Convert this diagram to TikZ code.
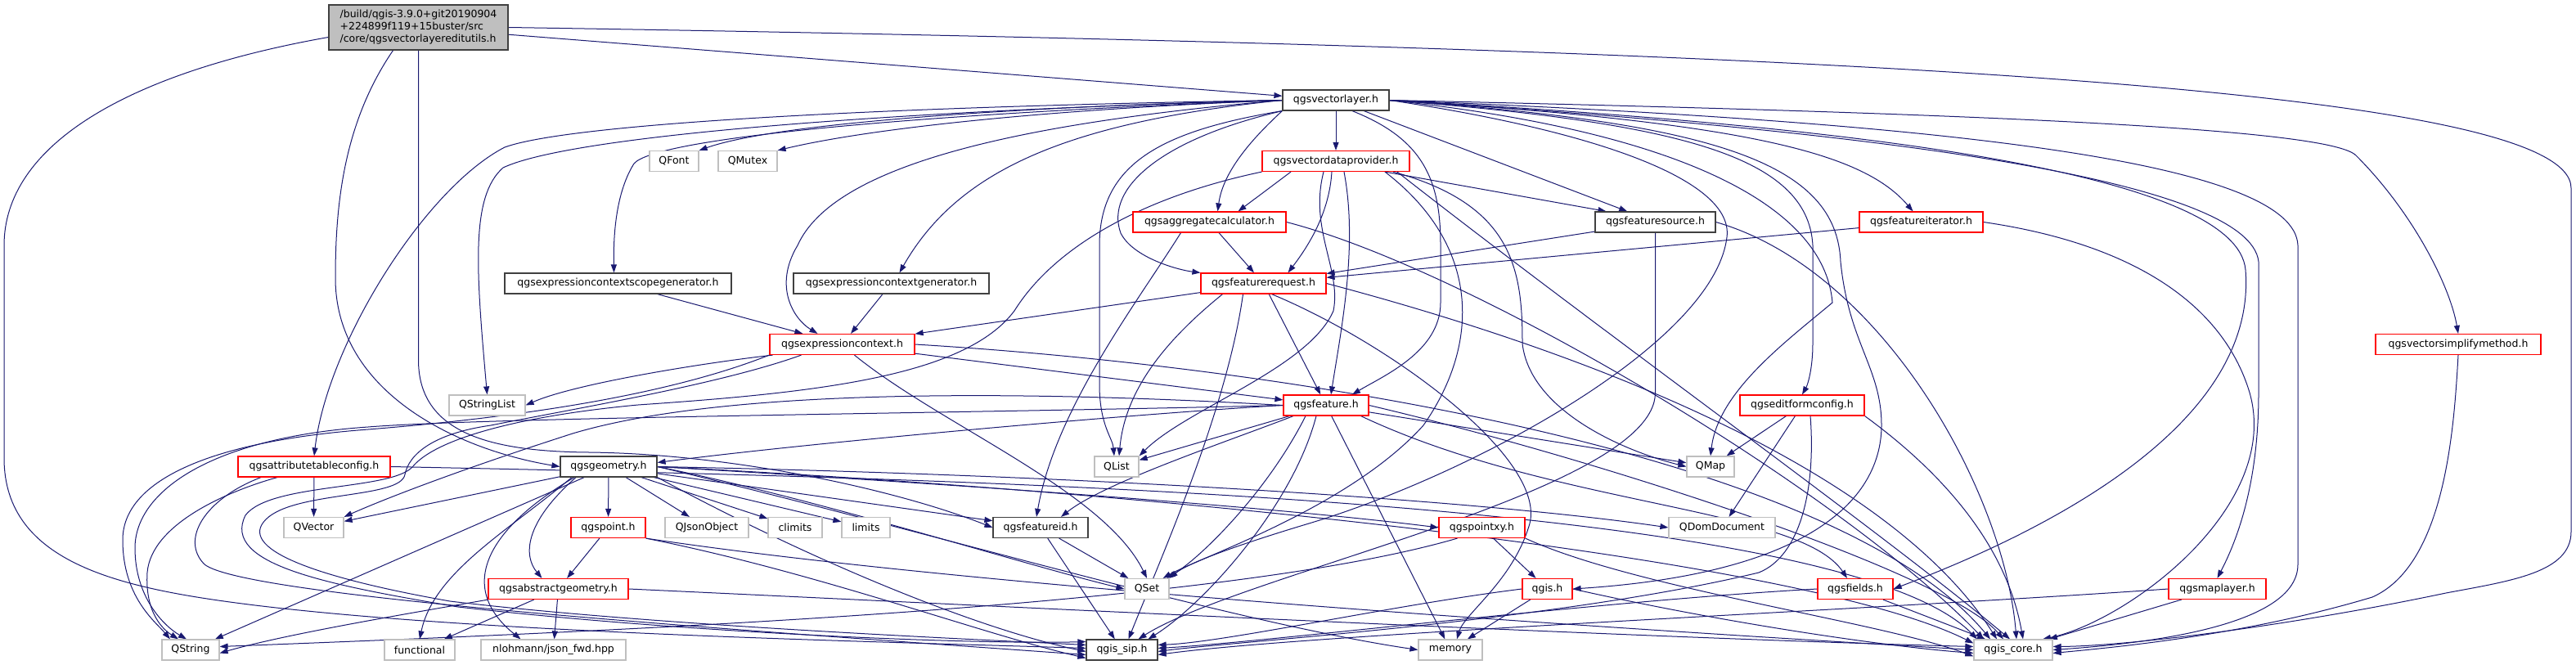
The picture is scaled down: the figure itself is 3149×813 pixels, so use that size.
\documentclass[tikz,border=0pt]{standalone}
\usepackage{fontspec}
\setmainfont{DejaVu Sans}
\usetikzlibrary{arrows.meta, backgrounds}
\definecolor{EdgeBlue}{RGB}{25, 25, 112}
\definecolor{BoxGray}{RGB}{191, 191, 191}
\definecolor{BoxDark}{RGB}{64, 64, 64}
\definecolor{BoxRed}{RGB}{255, 0, 0}
\tikzset{
  file/.style={draw=BoxDark, fill=white, line width=1.2pt, minimum height=25pt, inner sep=0pt, font=\fontsize{12.5}{15}\selectfont},
  ext/.style={file, draw=BoxGray},
  trunc/.style={file, draw=BoxRed},
  dep/.style={EdgeBlue, line width=1pt, -{Triangle[length=10pt,width=7pt]}}
}

\begin{document}
\begin{tikzpicture}[x=1pt, y=-1pt]
    \useasboundingbox (0,0) rectangle (3149,813);

    % files, row by row
    \node[file, fill=BoxGray, minimum width=219pt, minimum height=55pt, align=left] (root) at (511.5,33.5) {/build/qgis-3.9.0+git20190904\\+224899f119+15buster/src\\/core/qgsvectorlayereditutils.h};
    \node[file, minimum width=130pt] (vlayer) at (1633,122.5) {qgsvectorlayer.h};
    \node[ext, minimum width=60pt] (QFont) at (824,197) {QFont};
    \node[ext, minimum width=72pt] (QMutex) at (914,197) {QMutex};
    \node[trunc, minimum width=180pt] (vdp) at (1633,197) {qgsvectordataprovider.h};
    \node[trunc, minimum width=187pt] (aggcalc) at (1478.5,271.5) {qgsaggregatecalculator.h};
    \node[file, minimum width=147pt] (fsource) at (2023.5,271.5) {qgsfeaturesource.h};
    \node[trunc, minimum width=151pt] (fiter) at (2348.5,271.5) {qgsfeatureiterator.h};
    \node[file, minimum width=277pt] (scopegen) at (755.5,346.5) {qgsexpressioncontextscopegenerator.h};
    \node[file, minimum width=239pt] (ctxgen) at (1089.5,346.5) {qgsexpressioncontextgenerator.h};
    \node[trunc, minimum width=153pt] (freq) at (1544.5,346.5) {qgsfeaturerequest.h};
    \node[trunc, minimum width=177pt] (exprctx) at (1029.5,421) {qgsexpressioncontext.h};
    \node[trunc, minimum width=202pt] (simplify) at (3005,421) {qgsvectorsimplifymethod.h};
    \node[ext, minimum width=93pt] (QStringList) at (595.5,495.5) {QStringList};
    \node[trunc, minimum width=104pt] (feature) at (1621,495.5) {qgsfeature.h};
    \node[trunc, minimum width=152pt] (editform) at (2203,495.5) {qgseditformconfig.h};
    \node[trunc, minimum width=186pt] (attrtable) at (384,570.5) {qgsattributetableconfig.h};
    \node[file, minimum width=118pt] (geometry) at (744,570.5) {qgsgeometry.h};
    \node[ext, minimum width=54pt] (QList) at (1365,570.5) {QList};
    \node[ext, minimum width=58pt] (QMap) at (2091,570.5) {QMap};
    \node[ext, minimum width=73pt] (QVector) at (383.5,645) {QVector};
    \node[trunc, minimum width=91pt] (point) at (743.5,645) {qgspoint.h};
    \node[ext, minimum width=102pt] (QJsonObject) at (864,645) {QJsonObject};
    \node[ext, minimum width=66pt] (climits) at (972,645) {climits};
    \node[ext, minimum width=59pt] (limits) at (1058.5,645) {limits};
    \node[file, minimum width=116pt] (featureid) at (1272,645) {qgsfeatureid.h};
    \node[trunc, minimum width=105pt] (pointxy) at (1811.5,645) {qgspointxy.h};
    \node[ext, minimum width=130pt] (QDomDocument) at (2105,645) {QDomDocument};
    \node[trunc, minimum width=171pt] (absgeom) at (682.5,720) {qgsabstractgeometry.h};
    \node[ext, minimum width=54pt] (QSet) at (1402,720) {QSet};
    \node[trunc, minimum width=61pt] (qgish) at (1891.5,720) {qgis.h};
    \node[trunc, minimum width=92pt] (fields) at (2268,720) {qgsfields.h};
    \node[trunc, minimum width=119pt] (maplayer) at (2710.5,720) {qgsmaplayer.h};
    \node[ext, minimum width=70pt] (QString) at (233,794.5) {QString};
    \node[ext, minimum width=86pt] (functional) at (513,794.5) {functional};
    \node[ext, minimum width=177pt] (nlohmann) at (676.5,794.5) {nlohmann/json\_fwd.hpp};
    \node[file, minimum width=87pt] (qgissip) at (1371.5,794.5) {qgis\_sip.h};
    \node[ext, minimum width=78pt] (memory) at (1773,794.5) {memory};
    \node[ext, minimum width=96pt] (qgiscore) at (2461,794.5) {qgis\_core.h};

    \begin{scope}[on background layer]
    % root file
    \draw[dep] ([yshift=-12pt]root.west) .. controls (150,90) and (5,180) .. (5,300) -- (5,560) .. controls (5,690) and (150,720) .. (312,740) .. controls (600,775) and (1100,785) .. ([yshift=2pt]qgissip.west);
    \draw[dep] (root) -- (vlayer);
    \draw[dep] (root.east) .. controls (2300,60) and (3143,110) .. (3143,230) -- (3143,650) .. controls (3143,700) and (3070,710) .. (2990,725) .. controls (2800,765) and (2600,790) .. ([yshift=4pt]qgiscore.east);
    \draw[dep] ([xshift=-31pt]root.south) .. controls (420,150) and (410,250) .. (410,340) .. controls (410,480) and (560,550) .. (geometry.west);
    \draw[dep] (root.south) -- (511.5,440) .. controls (511.5,530) and (600,552) .. (720,553) .. controls (900,555) and (1100,600) .. (featureid.west);

    % qgsvectorlayer.h
    \draw[dep] (vlayer.west) .. controls (1250,130) and (950,150) .. (QFont.north east);
    \draw[dep] (vlayer.west) .. controls (1250,135) and (1050,160) .. (QMutex.north east);
    \draw[dep] (vlayer.west) .. controls (1100,130) and (700,150) .. (617,180) .. controls (520,230) and (400,420) .. (attrtable.north);
    \draw[dep] (vlayer.west) .. controls (1100,135) and (700,165) .. (615,205) .. controls (575,240) and (582,330) .. (QStringList.north);
    \draw[dep] (vlayer.west) .. controls (1100,140) and (800,170) .. (775,200) .. controls (750,240) and (750,300) .. ([xshift=-5pt]scopegen.north);
    \draw[dep] (vlayer.west) .. controls (1250,150) and (1020,200) .. (975,300) .. controls (945,350) and (970,390) .. ([xshift=-30pt]exprctx.north);
    \draw[dep] (vlayer.west) .. controls (1300,150) and (1170,210) .. ([xshift=10pt]ctxgen.north);
    \draw[dep] (vlayer.south west) .. controls (1530,170) and (1495,210) .. ([xshift=10pt]aggcalc.north);
    \draw[dep] (vlayer.south west) .. controls (1420,170) and (1350,230) .. (1370,285) .. controls (1385,315) and (1440,330) .. (freq.north west);
    \draw[dep] (vlayer.south west) .. controls (1420,160) and (1344,200) .. (1344,300) -- (1344,470) .. controls (1344,520) and (1360,535) .. ([xshift=-3pt]QList.north);
    \draw[dep] (vlayer) -- (vdp);
    \draw[dep] (vlayer) -- (fsource);
    \draw[dep] (vlayer.east) .. controls (2150,150) and (2280,190) .. ([xshift=-10pt]fiter.north);
    \draw[dep] ([xshift=20pt]vlayer.south) .. controls (1740,170) and (1761,220) .. (1761,300) -- (1761,370) .. controls (1761,430) and (1690,460) .. ([xshift=32pt]feature.north);
    \draw[dep] (vlayer.east) .. controls (1950,160) and (2120,220) .. (2111,290) .. controls (2095,420) and (1800,580) .. (1600,640) .. controls (1500,670) and (1450,690) .. (QSet.north east);
    \draw[dep] (vlayer.east) .. controls (2050,160) and (2230,250) .. (2240,370) .. controls (2180,420) and (2100,480) .. (QMap.north);
    \draw[dep] (vlayer.east) .. controls (2050,150) and (2210,190) .. (2216,300) -- (2216,420) .. controls (2216,450) and (2210,470) .. (editform.north);
    \draw[dep] (vlayer.east) .. controls (2100,150) and (2245,200) .. (2250,320) .. controls (2260,420) and (2300,450) .. (2300,520) .. controls (2300,600) and (2230,700) .. (qgish.east);
    \draw[dep] (vlayer.east) .. controls (2300,160) and (2750,220) .. (2761,320) -- (2761,480) .. controls (2761,580) and (2740,650) .. (maplayer.north);
    \draw[dep] (vlayer.east) .. controls (2300,155) and (2735,215) .. (2745,330) .. controls (2760,520) and (2500,650) .. (fields.east);
    \draw[dep] (vlayer.east) .. controls (2400,150) and (2805,200) .. (2809,300) -- (2809,690) .. controls (2809,760) and (2650,785) .. (qgiscore.east);
    \draw[dep] (vlayer.east) .. controls (2500,140) and (2850,160) .. (2880,190) .. controls (2950,260) and (2995,350) .. (simplify.north);

    % qgsvectordataprovider.h
    \draw[dep] ([xshift=-55pt]vdp.south) -- ([xshift=35pt]aggcalc.north);
    \draw[dep] ([xshift=-5pt]vdp.south) .. controls (1625,260) and (1600,300) .. ([xshift=30pt]freq.north);
    \draw[dep] ([xshift=10pt]vdp.south) .. controls (1660,300) and (1640,400) .. ([xshift=6pt]feature.north);
    \draw[dep] ([xshift=60pt]vdp.south) -- ([xshift=-60pt]fsource.north);
    \draw[dep] ([xshift=-15pt]vdp.south) .. controls (1600,280) and (1640,330) .. (1630,380) .. controls (1600,450) and (1450,500) .. (QList.north east);
    \draw[dep] ([xshift=60pt]vdp.south) .. controls (1810,300) and (1810,420) .. (1740,520) .. controls (1650,620) and (1470,680) .. ([xshift=-8pt]QSet.north east);
    \draw[dep] ([xshift=70pt]vdp.south) .. controls (1850,250) and (1861,330) .. (1861,420) .. controls (1870,500) and (1980,550) .. (QMap.west);
    \draw[dep] ([xshift=75pt]vdp.south) .. controls (1950,400) and (2300,650) .. ([xshift=-4pt]qgiscore.north);
    \draw[dep] (vdp.south west) .. controls (1400,240) and (1290,300) .. (1240,380) .. controls (1180,460) and (1000,480) .. (780,495) .. controls (620,510) and (530,540) .. (505,570) .. controls (480,600) and (330,590) .. (300,630) .. controls (270,690) and (400,715) .. (560,742) .. controls (850,775) and (1200,788) .. ([yshift=10pt]qgissip.west);

    % qgsaggregatecalculator.h
    \draw[dep] (aggcalc) -- (freq);
    \draw[dep] ([xshift=-35pt]aggcalc.south) .. controls (1390,370) and (1290,500) .. ([xshift=-5pt]featureid.north);
    \draw[dep] (aggcalc.east) .. controls (1800,330) and (2250,600) .. ([xshift=-36pt]qgiscore.north);

    % qgsfeaturesource.h and qgsfeatureiterator.h
    \draw[dep] (fsource) -- (freq);
    \draw[dep] (fsource.south) -- (2023.5,480) .. controls (2023.5,600) and (1520,700) .. ([xshift=20pt]qgissip.north);
    \draw[dep] (fsource.east) .. controls (2300,330) and (2450,600) .. ([xshift=4pt]qgiscore.north);
    \draw[dep] (fiter) -- (freq);
    \draw[dep] (fiter.east) .. controls (2620,300) and (2720,380) .. (2750,480) .. controls (2790,620) and (2600,760) .. ([xshift=36pt]qgiscore.north);

    % expression context generators
    \draw[dep] (scopegen) -- (exprctx);
    \draw[dep] (ctxgen) -- (exprctx);

    % qgsfeaturerequest.h
    \draw[dep] (freq) -- (exprctx);
    \draw[dep] (freq) -- (feature);
    \draw[dep] ([xshift=-50pt]freq.south) .. controls (1420,420) and (1375,480) .. ([xshift=3pt]QList.north);
    \draw[dep] ([xshift=-25pt]freq.south) .. controls (1500,500) and (1420,680) .. ([xshift=8pt]qgissip.north);
    \draw[dep] ([xshift=10pt]freq.south) .. controls (1700,420) and (1890,560) .. (1870,640) .. controls (1850,710) and (1790,750) .. ([xshift=8pt]memory.north);
    \draw[dep] (freq.east) .. controls (1900,420) and (2300,560) .. ([xshift=-20pt]qgiscore.north);

    % qgsexpressioncontext.h
    \draw[dep] ([xshift=-85pt]exprctx.south) .. controls (850,445) and (700,470) .. (QStringList.east);
    \draw[dep] (exprctx.south west) .. controls (850,470) and (700,505) .. (450,525) .. controls (250,540) and (150,590) .. (150,660) .. controls (150,730) and (190,760) .. ([xshift=-25pt]QString.north);
    \draw[dep] (exprctx) -- (feature);
    \draw[dep] ([xshift=15pt]exprctx.south) .. controls (1150,520) and (1350,600) .. (QSet.north);
    \draw[dep] (exprctx.east) .. controls (1600,450) and (2250,560) .. ([xshift=-28pt]qgiscore.north);
    \draw[dep] ([xshift=-50pt]exprctx.south) .. controls (880,470) and (700,500) .. (600,520) .. controls (530,530) and (500,555) .. (495,580) .. controls (490,610) and (360,600) .. (325,635) .. controls (290,670) and (380,705) .. (550,735) .. controls (800,765) and (1200,782) .. ([yshift=6pt]qgissip.west);

    % qgsattributetableconfig.h
    \draw[dep] (attrtable) -- (QVector);
    \draw[dep] ([xshift=-45pt]attrtable.south) .. controls (280,600) and (185,640) .. (180,700) .. controls (177,750) and (200,770) .. ([xshift=-15pt]QString.north);
    \draw[dep] ([xshift=-65pt]attrtable.south) .. controls (250,610) and (220,660) .. (250,690) .. controls (300,730) and (900,770) .. ([yshift=-6pt]qgissip.west);
    \draw[dep] (attrtable.east) .. controls (1200,585) and (2250,610) .. ([xshift=-44pt]qgiscore.north);

    % qgsgeometry.h
    \foreach \t in {QVector,QString,point,QJsonObject,climits,limits,featureid}
      \draw[dep] (geometry) -- (\t);
    \draw[dep] ([xshift=-40pt]geometry.south) .. controls (640,640) and (640,680) .. ([xshift=-20pt]absgeom.north);
    \draw[dep] ([xshift=-45pt]geometry.south) .. controls (620,650) and (530,700) .. (functional.north);
    \draw[dep] ([xshift=-42pt]geometry.south) .. controls (590,650) and (560,720) .. ([xshift=-40pt]nlohmann.north);
    \draw[dep] (geometry.east) .. controls (1000,610) and (1250,690) .. (QSet.west);
    \draw[dep] (geometry.south east) .. controls (1000,690) and (1200,770) .. ([yshift=-2pt]qgissip.west);
    \draw[dep] (geometry.east) .. controls (1400,600) and (2200,680) .. ([yshift=8pt]qgiscore.west);
    \draw[dep] (geometry.east) .. controls (1100,640) and (1500,760) .. (memory.west);
    \draw[dep] (geometry.east) .. controls (1300,580) and (1800,610) .. (QDomDocument.west);
    \draw[dep] (geometry.east) .. controls (1300,600) and (1600,625) .. (pointxy.west);

    % qgspoint.h and qgsabstractgeometry.h
    \draw[dep] (point) -- (absgeom);
    \draw[dep] (point.south east) .. controls (1000,700) and (1200,775) .. ([yshift=-10pt]qgissip.west);
    \draw[dep] (point.south east) .. controls (1200,720) and (2000,770) .. (qgiscore.west);
    \draw[dep] (absgeom) -- (functional);
    \draw[dep] (absgeom) -- (nlohmann);
    \draw[dep] (absgeom.south west) .. controls (500,750) and (350,775) .. ([yshift=-4pt]QString.east);
    \draw[dep] (absgeom.east) .. controls (1200,740) and (2000,780) .. ([yshift=4pt]qgiscore.west);

    % qgsfeatureid.h and qgspointxy.h
    \draw[dep] (featureid) -- (QSet);
    \draw[dep] (featureid) -- (qgissip);
    \draw[dep] (pointxy) -- (qgish);
    \draw[dep] ([xshift=-30pt]pointxy.south) .. controls (1500,740) and (800,770) .. ([yshift=4pt]QString.east);
    \draw[dep] (pointxy.south east) .. controls (2000,720) and (2300,760) .. ([yshift=-8pt]qgiscore.west);

    % qgis.h, qgsfields.h, qgseditformconfig.h
    \draw[dep] (qgish) -- (memory);
    \draw[dep] (qgish.west) .. controls (1700,740) and (1500,785) .. ([yshift=6pt]qgissip.east);
    \draw[dep] (qgish.east) .. controls (2100,760) and (2300,790) .. ([yshift=-4pt]qgiscore.west);
    \draw[dep] (fields) -- (qgiscore);
    \draw[dep] (fields.west) .. controls (1950,735) and (1550,785) .. ([yshift=2pt]qgissip.east);
    \draw[dep] (editform) -- (QMap);
    \draw[dep] (editform) -- (QDomDocument);
    \draw[dep] ([xshift=10pt]editform.south) .. controls (2220,600) and (2200,680) .. (2150,700) .. controls (1900,760) and (1500,785) .. ([yshift=-2pt]qgissip.east);
    \draw[dep] (editform.south east) .. controls (2350,560) and (2450,650) .. ([xshift=12pt]qgiscore.north);

    % qgsvectorsimplifymethod.h and qgsmaplayer.h
    \draw[dep] (simplify.south) .. controls (3000,520) and (2990,690) .. (2900,730) .. controls (2750,775) and (2600,790) .. ([yshift=-4pt]qgiscore.east);
    \draw[dep] (maplayer) -- (qgiscore);
    \draw[dep] (maplayer.west) .. controls (2300,745) and (1600,775) .. ([yshift=-6pt]qgissip.east);

    % qgsfeature.h
    \draw[dep] (feature.west) .. controls (1400,505) and (1000,540) .. ([yshift=5pt]geometry.east);
    \draw[dep] (feature.west) .. controls (1300,480) and (900,470) .. (700,530) .. controls (560,575) and (470,610) .. (QVector.north east);
    \draw[dep] (feature.west) .. controls (1200,505) and (600,510) .. (450,522) .. controls (260,535) and (165,600) .. (165,670) .. controls (165,730) and (200,765) .. ([xshift=-5pt]QString.north);
    \draw[dep] (feature) -- (QList);
    \draw[dep] ([xshift=-40pt]feature.south) .. controls (1500,540) and (1350,590) .. ([xshift=25pt]featureid.north);
    \draw[dep] ([xshift=-25pt]feature.south) .. controls (1550,600) and (1470,680) .. ([xshift=-3pt]QSet.north east);
    \draw[dep] ([xshift=-12pt]feature.south) .. controls (1580,620) and (1470,740) .. ([xshift=32pt]qgissip.north);
    \draw[dep] (feature) -- (memory);
    \draw[dep] (feature) -- (QMap);
    \draw[dep] ([xshift=-10pt]feature.south east) .. controls (1900,620) and (2200,620) .. ([xshift=-10pt]fields.north);
    \draw[dep] (feature.east) .. controls (1950,560) and (2380,700) .. ([xshift=-12pt]qgiscore.north);
    \end{scope}
\end{tikzpicture}
\end{document}
